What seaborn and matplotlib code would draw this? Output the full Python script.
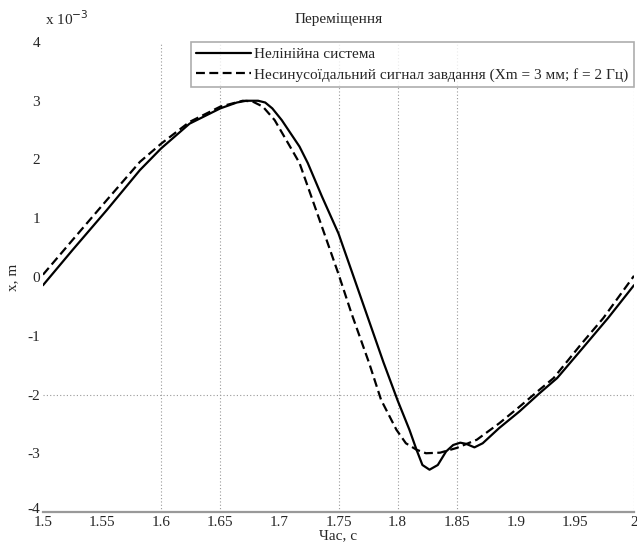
import numpy as np
import matplotlib
matplotlib.use("Agg")
import matplotlib.pyplot as plt
import seaborn as sns
from matplotlib.transforms import ScaledTranslation

# Нелінійна система (solid), x in mm (x 10^-3 m)
t_sys = [1.500, 1.525, 1.554, 1.582, 1.600, 1.624, 1.650, 1.664, 1.672, 1.682,
         1.688, 1.694, 1.702, 1.717, 1.724, 1.736, 1.750, 1.762, 1.775, 1.788,
         1.800, 1.810, 1.816, 1.821, 1.827, 1.834, 1.841, 1.847, 1.853, 1.858,
         1.865, 1.872, 1.886, 1.903, 1.920, 1.935, 1.957, 1.978, 2.000]
x_sys = [-0.14, 0.46, 1.14, 1.82, 2.19, 2.61, 2.87, 2.97, 3.00, 3.00,
         2.97, 2.87, 2.67, 2.22, 1.94, 1.37, 0.74, 0.05, -0.70, -1.45,
         -2.10, -2.60, -2.94, -3.20, -3.28, -3.20, -2.97, -2.86, -2.82, -2.84,
         -2.90, -2.83, -2.57, -2.29, -1.98, -1.72, -1.20, -0.70, -0.14]

# Несинусоїдальний сигнал завдання (dashed)
t_ref = [1.500, 1.525, 1.554, 1.582, 1.600, 1.624, 1.650, 1.669, 1.677, 1.686,
         1.696, 1.709, 1.717, 1.727, 1.738, 1.750, 1.761, 1.776, 1.786, 1.799,
         1.807, 1.816, 1.824, 1.836, 1.850, 1.867, 1.886, 1.903, 1.920, 1.932,
         1.955, 1.974, 2.000]
x_ref = [0.04, 0.63, 1.31, 1.96, 2.27, 2.64, 2.90, 3.00, 2.99, 2.90,
         2.67, 2.22, 1.94, 1.37, 0.74, 0.05, -0.62, -1.47, -2.09, -2.60,
         -2.83, -2.94, -3.00, -2.99, -2.91, -2.77, -2.49, -2.21, -1.92, -1.72,
         -1.15, -0.70, 0.02]

labels = ["Нелінійна система",
          "Несинусоїдальний сигнал завдання (Xm = 3 мм; f = 2 Гц)"]
xticks = [1.5, 1.55, 1.6, 1.65, 1.7, 1.75, 1.8, 1.85, 1.9, 1.95, 2]
xtick_labels = ["1.5", "1.55", "1.6", "1.65", "1.7", "1.75", "1.8", "1.85", "1.9", "1.95", "2"]
yticks = [-4, -3, -2, -1, 0, 1, 2, 3, 4]

# only the grid lines that survive in the picture
vgrid = [1.6, 1.65, 1.75, 1.8, 1.85, 2.0]
hgrid = [-2]

sns.set_style("white")
plt.rcParams["font.family"] = ["Liberation Serif", "DejaVu Serif"]
plt.rcParams["axes.unicode_minus"] = False

fig = plt.figure(figsize=(6.37, 5.45), dpi=100)
ax = fig.add_axes([43 / 637, 33 / 545, 591 / 637, 470 / 545])

for g in vgrid:
    ax.axvline(g, color="#999999", lw=0.8, ls=(0, (1, 2)), zorder=0)
for g in hgrid:
    ax.axhline(g, color="#999999", lw=0.8, ls=(0, (1, 2)), zorder=0)

sns.lineplot(x=t_sys, y=x_sys, ax=ax, color="black", lw=1.6, label=labels[0])
sns.lineplot(x=t_ref, y=x_ref, ax=ax, color="black", lw=1.6, linestyle=(0, (4, 2)),
             label=labels[1])

ax.set_xlim(1.5, 2.0)
ax.set_ylim(-4, 4)
ax.set_xticks(xticks)
ax.set_xticklabels(xtick_labels)
ax.set_yticks(yticks)
ax.tick_params(direction="in", length=4, color="#999999", labelsize=11, pad=2)
ax.tick_params(axis="x", pad=3)

# lift the lowest y label a little so it sits on top of "1.5"
fig.canvas.draw()
ylab = ax.get_yticklabels()[0]
ylab.set_transform(ylab.get_transform() + ScaledTranslation(0, 3 / 72, fig.dpi_scale_trans))

for s in ["top", "right", "left"]:
    ax.spines[s].set_visible(False)
ax.spines["bottom"].set_color("#999999")
ax.spines["bottom"].set_linewidth(1.6)

ax.set_title("Переміщення", fontsize=11, pad=14)
ax.set_xlabel("Час, с", fontsize=11, labelpad=0)
ax.set_ylabel("x, m", fontsize=11, labelpad=6)
ax.text(0.004, 1.03, "x 10$^{-3}$", transform=ax.transAxes, fontsize=11,
        ha="left", va="bottom")

leg = ax.legend(loc="upper right", borderaxespad=0, fancybox=False, fontsize=11,
                handlelength=3.6, handletextpad=0.2, borderpad=0.35, labelspacing=0.45)
leg.get_frame().set_edgecolor("#999999")
leg.get_frame().set_linewidth(1.2)

fig.savefig("out.png", dpi=100)
